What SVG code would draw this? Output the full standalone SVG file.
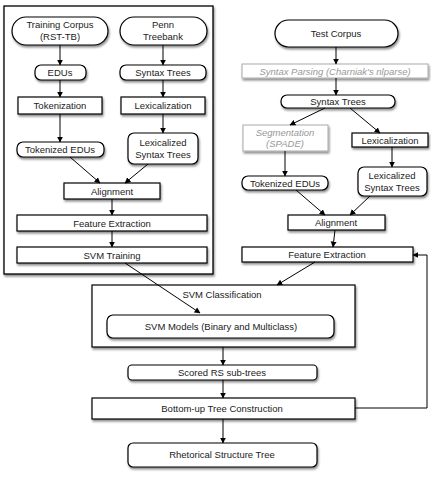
<svg xmlns="http://www.w3.org/2000/svg" width="431" height="487" viewBox="0 0 431 487">
<defs>
<filter id="sh" x="-20%" y="-20%" width="140%" height="160%"><feDropShadow dx="1" dy="2" stdDeviation="1.2" flood-color="#000" flood-opacity="0.45"/></filter>
<marker id="ah" viewBox="0 0 10 10" refX="9" refY="5" markerWidth="6" markerHeight="7" orient="auto" markerUnits="userSpaceOnUse"><path d="M0,0 L10,5 L0,10 z" fill="#000"/></marker>
<style>
.b{fill:#fff;stroke:#000;stroke-width:1.2;filter:url(#sh)}
.g{fill:#fff;stroke:#aaa;stroke-width:1;filter:url(#sh)}
.t{font-family:"Liberation Sans",Arial,sans-serif;font-size:9.5px;fill:#222;text-anchor:middle}
.gt{font-family:"Liberation Sans",Arial,sans-serif;font-size:9.5px;fill:#999;font-style:italic;text-anchor:middle}
.c line,.c polyline{stroke:#000;stroke-width:1;fill:none;marker-end:url(#ah)}
</style>
</defs>
<rect width="431" height="487" fill="#fff"/>
<rect x="4" y="6" width="209" height="268" fill="#fff" stroke="#000" stroke-width="1.3" filter="url(#sh)"/>
<g id="training-corpus"><rect class="b" x="12" y="17" width="96" height="28" rx="14"/><text class="t" x="60" y="28">Training Corpus</text><text class="t" x="60" y="40">(RST-TB)</text></g>
<g id="penn-treebank"><rect class="b" x="120" y="17" width="87" height="28" rx="14"/><text class="t" x="163" y="28">Penn</text><text class="t" x="163" y="40">Treebank</text></g>
<g id="edus"><rect class="b" x="35" y="65" width="51" height="15" rx="6"/><text class="t" x="60" y="76">EDUs</text></g>
<g id="syntax-trees-l"><rect class="b" x="120" y="65" width="86" height="15" rx="6"/><text class="t" x="163" y="76">Syntax Trees</text></g>
<g id="tokenization"><rect class="b" x="18" y="97" width="84" height="17"/><text class="t" x="60" y="109">Tokenization</text></g>
<g id="lexicalization-l"><rect class="b" x="121" y="97" width="84" height="17"/><text class="t" x="163" y="109">Lexicalization</text></g>
<g id="tokenized-edus-l"><rect class="b" x="17" y="142" width="87" height="15" rx="6"/><text class="t" x="60" y="153">Tokenized EDUs</text></g>
<g id="lex-syntax-l"><rect class="b" x="128" y="133" width="70" height="31" rx="6"/><text class="t" x="163" y="146">Lexicalized</text><text class="t" x="163" y="158">Syntax Trees</text></g>
<g id="alignment-l"><rect class="b" x="64" y="183" width="96" height="16"/><text class="t" x="112" y="194.5">Alignment</text></g>
<g id="feature-extraction-l"><rect class="b" x="17" y="215" width="190" height="16"/><text class="t" x="112" y="226.5">Feature Extraction</text></g>
<g id="svm-training"><rect class="b" x="17" y="247" width="190" height="16"/><text class="t" x="112" y="258.5">SVM Training</text></g>
<g id="test-corpus"><rect class="b" x="275" y="20" width="123" height="27" rx="13.5"/><text class="t" x="336" y="37">Test Corpus</text></g>
<g id="syntax-parsing"><rect class="g" x="242" y="64" width="186" height="14"/><text class="gt" x="335" y="74.5">Syntax Parsing (Charniak's nlparse)</text></g>
<g id="syntax-trees-r"><rect class="b" x="281" y="95" width="114" height="13" rx="6"/><text class="t" x="338" y="105">Syntax Trees</text></g>
<g id="segmentation"><rect class="g" x="243" y="125" width="85" height="26"/><text class="gt" x="285" y="136">Segmentation</text><text class="gt" x="285" y="147">(SPADE)</text></g>
<g id="lexicalization-r"><rect class="b" x="352" y="133" width="76" height="14"/><text class="t" x="390" y="143.5">Lexicalization</text></g>
<g id="tokenized-edus-r"><rect class="b" x="242" y="176" width="86" height="14" rx="6"/><text class="t" x="285" y="186.5">Tokenized EDUs</text></g>
<g id="lex-syntax-r"><rect class="b" x="358" y="167" width="69" height="29" rx="6"/><text class="t" x="392" y="179">Lexicalized</text><text class="t" x="392" y="191">Syntax Trees</text></g>
<g id="alignment-r"><rect class="b" x="288" y="215" width="97" height="15"/><text class="t" x="336" y="226">Alignment</text></g>
<g id="feature-extraction-r"><rect class="b" x="242" y="247" width="171" height="15"/><text class="t" x="327" y="258">Feature Extraction</text></g>
<g id="svm-classification"><rect class="b" x="92" y="285" width="263" height="62"/><text class="t" x="222" y="298">SVM Classification</text></g>
<g id="svm-models"><rect class="b" x="107" y="315" width="227" height="23" rx="6"/><text class="t" x="221" y="330">SVM Models (Binary and Multiclass)</text></g>
<g id="scored-rs"><rect class="b" x="128" y="365" width="189" height="15" rx="4"/><text class="t" x="222" y="375.5">Scored RS sub-trees</text></g>
<g id="bottom-up"><rect class="b" x="92" y="398" width="263" height="21"/><text class="t" x="222" y="411.5">Bottom-up Tree Construction</text></g>
<g id="rst"><rect class="b" x="128" y="443" width="189" height="24" rx="5"/><text class="t" x="222" y="458">Rhetorical Structure Tree</text></g>
<g class="c" id="connectors">
<line x1="60" y1="45" x2="60" y2="65"/>
<line x1="60" y1="80" x2="60" y2="97"/>
<line x1="60" y1="114" x2="60" y2="142"/>
<line x1="163" y1="45" x2="163" y2="65"/>
<line x1="163" y1="80" x2="163" y2="97"/>
<line x1="163" y1="114" x2="163" y2="133"/>
<line x1="70" y1="157" x2="100" y2="183"/>
<line x1="148" y1="164" x2="125" y2="183"/>
<line x1="112" y1="199" x2="112" y2="215"/>
<line x1="112" y1="231" x2="112" y2="247"/>
<line x1="125" y1="263" x2="200" y2="313"/>
<line x1="336" y1="47" x2="336" y2="64"/>
<line x1="336" y1="78" x2="336" y2="95"/>
<line x1="325" y1="108" x2="290" y2="125"/>
<line x1="350" y1="108" x2="380" y2="133"/>
<line x1="285" y1="151" x2="285" y2="176"/>
<line x1="392" y1="147" x2="392" y2="167"/>
<line x1="296" y1="190" x2="325" y2="215"/>
<line x1="370" y1="196" x2="350" y2="215"/>
<line x1="335" y1="230" x2="333" y2="247"/>
<line x1="315" y1="262" x2="277" y2="285"/>
<line x1="223" y1="347" x2="223" y2="365"/>
<line x1="223" y1="380" x2="223" y2="398"/>
<line x1="223" y1="419" x2="223" y2="443"/>
<polyline points="355,408 427,408 427,255 413,255"/>
</g>
</svg>
